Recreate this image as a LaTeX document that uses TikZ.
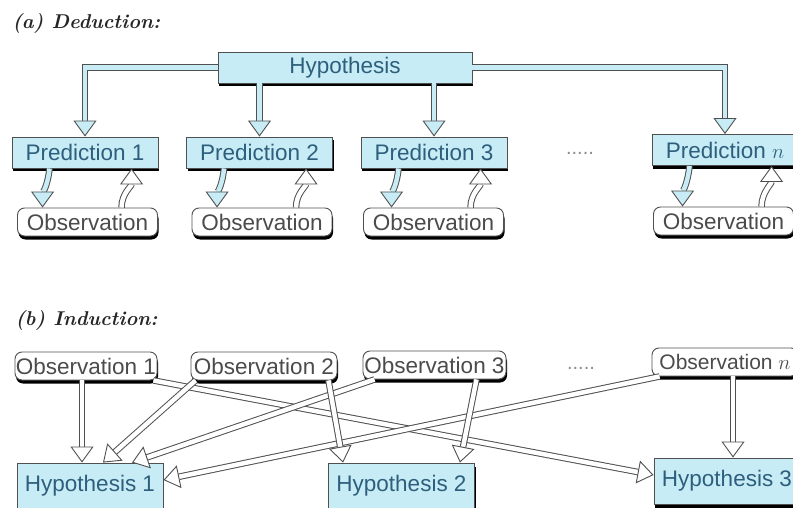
\documentclass[tikz,border=0pt]{standalone}
\usepackage{fontspec}
\setsansfont{Liberation Sans}
\usetikzlibrary{arrows.meta,shadows,calc}

\definecolor{boxfill}{RGB}{200,236,246}
\definecolor{boxtext}{RGB}{45,95,125}
\definecolor{obstext}{RGB}{75,75,75}
\definecolor{linegray}{RGB}{80,80,80}

\tikzset{
  boxshadow/.style={drop shadow={shadow xshift=1pt, shadow yshift=-3.5pt, fill=black, opacity=1}},
  predbox/.style={draw=linegray, line width=0.9pt, fill=boxfill, text=boxtext,
    font=\sffamily\fontsize{22.5}{26}\selectfont, minimum width=146pt, minimum height=31pt,
    inner sep=0pt, boxshadow},
  obsbox/.style={draw=linegray, line width=0.9pt, fill=white, rounded corners=7pt, text=obstext,
    font=\sffamily\fontsize{22.5}{26}\selectfont, minimum width=140pt, minimum height=28pt,
    inner sep=0pt, boxshadow},
  dedarrow/.style={draw=linegray, line width=1pt, double=boxfill, double distance=4.5pt,
    -{Triangle[length=16pt, width=23pt, fill=boxfill, line width=0.9pt]}},
  indarrow/.style={draw=linegray, line width=1pt, double=white, double distance=4.5pt,
    -{Triangle[length=16pt, width=23pt, fill=white, line width=0.9pt]}},
  title/.style={anchor=west, font=\bfseries\itshape\fontsize{20}{24}\selectfont, text=black!85},
  dots/.style={text=black!45, font=\sffamily\fontsize{20}{20}\selectfont}
}

\begin{document}
\begin{tikzpicture}[x=1pt, y=-1pt]
  \useasboundingbox (0,0) rectangle (793,508);

  % (a) deduction
  \node[title] (ttla) at (9,23) {(a) Deduction:};
  \node[predbox, minimum width=254pt] (hyp) at (345,67.5) {Hypothesis};

  \node[predbox] (pred1) at (85,152.5) {Prediction 1};
  \node[predbox] (pred2) at (259.5,152.5) {Prediction 2};
  \node[predbox] (pred3) at (434,152.5) {Prediction 3};
  \node[predbox] (predn) at (725,150) {Prediction $n$};
  \node[dots] (dotsa) at (580,153) {.....};

  \node[obsbox] (dobs1) at (87.5,222) {Observation};
  \node[obsbox] (dobs2) at (262,222) {Observation};
  \node[obsbox] (dobs3) at (433.5,222) {Observation};
  \node[obsbox] (dobsn) at (723.5,221) {Observation};

  \draw[dedarrow] (hyp.west) -| (pred1.north);
  \draw[dedarrow] (hyp.south -| pred2.north) -- (pred2.north);
  \draw[dedarrow] (hyp.south -| pred3.north) -- (pred3.north);
  \draw[dedarrow] (hyp.east) -| (predn.north);

  % prediction <-> observation
  \foreach \i in {1,2,3,n}{
    \draw[dedarrow] ([xshift=38pt]pred\i.south west)
      .. controls +(-2,18) and +(0,-14) .. ([xshift=31pt]pred\i.south west |- dobs\i.north);
    \draw[indarrow] ([xshift=110pt]pred\i.south west |- dobs\i.north)
      .. controls +(0,-14) and +(0,18) .. ([xshift=120pt]pred\i.south west);
  }

  % (b) induction
  \node[title] (ttlb) at (12,320) {(b) Induction:};

  \node[obsbox, minimum width=142pt] (obs1) at (86,366) {Observation 1};
  \node[obsbox, minimum width=146pt] (obs2) at (264,366) {Observation 2};
  \node[obsbox, minimum width=143pt] (obs3) at (434.5,365) {Observation 3};
  \node[obsbox, minimum width=146pt, font=\sffamily\fontsize{21}{24}\selectfont] (obsn) at (725,362) {Observation $n$};
  \node[dots] (dotsb) at (581,368) {.....};

  \node[predbox, minimum height=46pt] (hyp1) at (90,486) {Hypothesis 1};
  \node[predbox, minimum height=46pt] (hyp2) at (401.5,486) {Hypothesis 2};
  \node[predbox, minimum height=46pt] (hyp3) at (727,481) {Hypothesis 3};

  \draw[indarrow] ([xshift=-4pt]obs1.south) -- ([xshift=-8pt]hyp1.north);
  \draw[indarrow] ([xshift=-4pt]obs1.south east) -- ([yshift=6pt]hyp3.west);
  \draw[indarrow] ([xshift=5pt]obs2.south west) -- ([xshift=13pt]hyp1.north);
  \draw[indarrow] ([xshift=12pt]obs3.south west) -- ([xshift=42pt]hyp1.north);
  \draw[indarrow] ([xshift=8pt]obsn.south west) -- ([yshift=6pt]hyp1.east);
  \draw[indarrow] ([xshift=-9pt]obs2.south east) -- ([xshift=15pt]hyp2.north west);
  \draw[indarrow] ([xshift=42pt]obs3.south) -- ([xshift=-15pt]hyp2.north east);
  \draw[indarrow] ([xshift=8pt]obsn.south) -- ([xshift=6pt]hyp3.north);
\end{tikzpicture}
\end{document}
